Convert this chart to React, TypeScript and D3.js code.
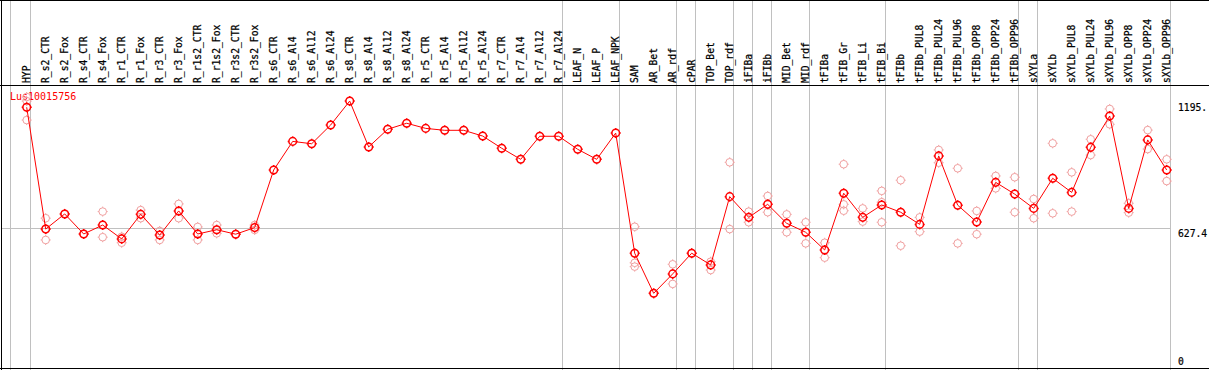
import React from "react";
import * as d3 from "d3";

const title = "Lus10015756";

const categories = [
  "HYP", "R_s2_CTR", "R_s2_Fox", "R_s4_CTR", "R_s4_Fox", "R_r1_CTR", "R_r1_Fox", "R_r3_CTR", "R_r3_Fox",
  "R_r1s2_CTR", "R_r1s2_Fox", "R_r3s2_CTR", "R_r3s2_Fox",
  "R_s6_CTR", "R_s6_Al4", "R_s6_Al12", "R_s6_Al24",
  "R_s8_CTR", "R_s8_Al4", "R_s8_Al12", "R_s8_Al24",
  "R_r5_CTR", "R_r5_Al4", "R_r5_Al12", "R_r5_Al24",
  "R_r7_CTR", "R_r7_Al4", "R_r7_Al12", "R_r7_Al24",
  "LEAF_N", "LEAF_P", "LEAF_NPK", "SAM", "AR_Bet", "AR_rdf", "cPAR", "TOP_Bet", "TOP_rdf",
  "iFIBa", "iFIBb", "MID_Bet", "MID_rdf", "tFIBa", "tFIB_Gr", "tFIB_Li", "tFIB_Bi", "tFIBb",
  "tFIBb_PUL8", "tFIBb_PUL24", "tFIBb_PUL96", "tFIBb_OPP8", "tFIBb_OPP24", "tFIBb_OPP96",
  "sXYLa", "sXYLb", "sXYLb_PUL8", "sXYLb_PUL24", "sXYLb_PUL96", "sXYLb_OPP8", "sXYLb_OPP24", "sXYLb_OPP96",
];

const means = [
  1194, 623, 694, 600, 642, 577, 692, 595, 708, 600, 620, 599, 630,
  900, 1034, 1023, 1111, 1223, 1008, 1091, 1119, 1095, 1086, 1086, 1059,
  1002, 950, 1058, 1058, 997, 950, 1073,
  510, 322, 413, 510, 455, 775, 678, 739, 650, 608, 525, 791, 678, 736, 702,
  645, 966, 735, 656, 842, 787, 720, 861, 795, 1006, 1153, 720, 1041, 900,
];

const replicates = [
  [1242, 1223, 1134], [674, 572, 623], [694], [600], [705, 585], [587, 559], [712, 674], [614, 572], [741, 674],
  [633, 572], [642, 603], [599], [642, 619],
  [], [], [], [], [], [], [], [], [], [], [], [], [], [], [], [], [], [], [],
  [634, 465, 447], [322], [458, 366], [510], [470, 431], [936, 623],
  [705, 655], [778, 702], [692, 608], [655, 556], [559, 489], [927, 739, 709], [720, 658], [802, 749, 655], [852, 545],
  [678, 611], [994, 934], [908, 556], [708, 599], [872, 814], [866, 702],
  [764, 674], [1025, 697], [889, 705], [1044, 970], [1186, 1114], [744, 700], [1087, 998], [950, 848],
];

const groupEnds = [0, 28, 31, 34, 35, 37, 38, 39, 41, 45, 52, 53, 60];

const yTicks = [1195.2, 627.4, 0];
const yTickLabels = ["1195.", "627.4", "0"];
const yTickDy = [3.5, 8.5, 3];

const W = 1209;
const H = 370;
const FONT = "'DejaVu Sans Mono', monospace";

function Marker({ cx, cy, color, sw }: { cx: number; cy: number; color: string; sw: number }) {
  const r = 3.8;
  const t = 1.2;
  return (
    <g stroke={color} strokeWidth={sw} fill="none">
      <circle cx={cx} cy={cy} r={r} />
      <line x1={cx} y1={cy - r - t} x2={cx} y2={cy - r} />
      <line x1={cx} y1={cy + r} x2={cx} y2={cy + r + t} />
      <line x1={cx - r - t} y1={cy} x2={cx - r} y2={cy} />
      <line x1={cx + r} y1={cy} x2={cx + r + t} y2={cy} />
    </g>
  );
}

export default function App() {
  const x = d3.scalePoint<string>().domain(categories).range([26.7, 1166.7]);
  const y = d3.scaleLinear().domain([0, 1195.2]).range([362, 107]);
  const line = d3
    .line<number>()
    .x((_, i) => x(categories[i]) as number)
    .y((d) => y(d));

  const px = (v: number) => Math.round(v) + 0.5;
  const midY = px(y(627.4));

  return (
    <svg
      width={W}
      height={H}
      style={{ position: "absolute", left: 0, top: 0, background: "#fff" }}
    >
      <rect x={0} y={0} width={W} height={H} fill="#fff" />
      {/* gray vertical separators */}
      <line x1={10.5} x2={10.5} y1={0} y2={H} stroke="#c0c0c0" strokeWidth={1} />
      {groupEnds.map((g) => {
        const gx = px((x(categories[g]) as number) + 3.6);
        return <line key={g} x1={gx} x2={gx} y1={0} y2={H} stroke="#c0c0c0" strokeWidth={1} />;
      })}
      {/* gray horizontal reference */}
      <line x1={1} x2={px((x(categories[60]) as number) + 3.6)} y1={midY} y2={midY} stroke="#c0c0c0" strokeWidth={1} />
      {/* frame */}
      <line x1={1.5} x2={1.5} y1={0} y2={H} stroke="#000" strokeWidth={1} />
      <line x1={0} x2={W} y1={0.5} y2={0.5} stroke="#000" strokeWidth={1} />
      <line x1={0} x2={W} y1={85.5} y2={85.5} stroke="#000" strokeWidth={1} />
      <line x1={0} x2={W} y1={368.5} y2={368.5} stroke="#000" strokeWidth={1} />
      {/* column labels */}
      {categories.map((c) => {
        const cx = (x(c) as number) + 3;
        return (
          <text
            key={c}
            x={cx}
            y={83}
            transform={`rotate(-90, ${cx}, 83)`}
            fontFamily={FONT}
            fontSize={9.7}
            fill="#000"
            stroke="#000"
            strokeWidth={0.25}
          >
            {c}
          </text>
        );
      })}
      {/* right axis labels */}
      {yTicks.map((v, i) => (
        <text key={i} x={1178} y={y(v) + yTickDy[i]} fontFamily={FONT} fontSize={9.7} fill="#000" stroke="#000" strokeWidth={0.2}>
          {yTickLabels[i]}
        </text>
      ))}
      {/* title */}
      <text x={10} y={100} fontFamily={FONT} fontSize={10} fill="#ff0000">
        {title}
      </text>
      {/* replicates */}
      {replicates.map((reps, i) =>
        reps.map((v, j) => (
          <Marker key={`${i}-${j}`} cx={x(categories[i]) as number} cy={y(v)} color="#f0a0a0" sw={1} />
        ))
      )}
      {/* mean line */}
      <path d={line(means) || ""} fill="none" stroke="#ff0000" strokeWidth={1} />
      {means.map((v, i) => (
        <Marker key={i} cx={x(categories[i]) as number} cy={y(v)} color="#ff0000" sw={1.5} />
      ))}
    </svg>
  );
}
